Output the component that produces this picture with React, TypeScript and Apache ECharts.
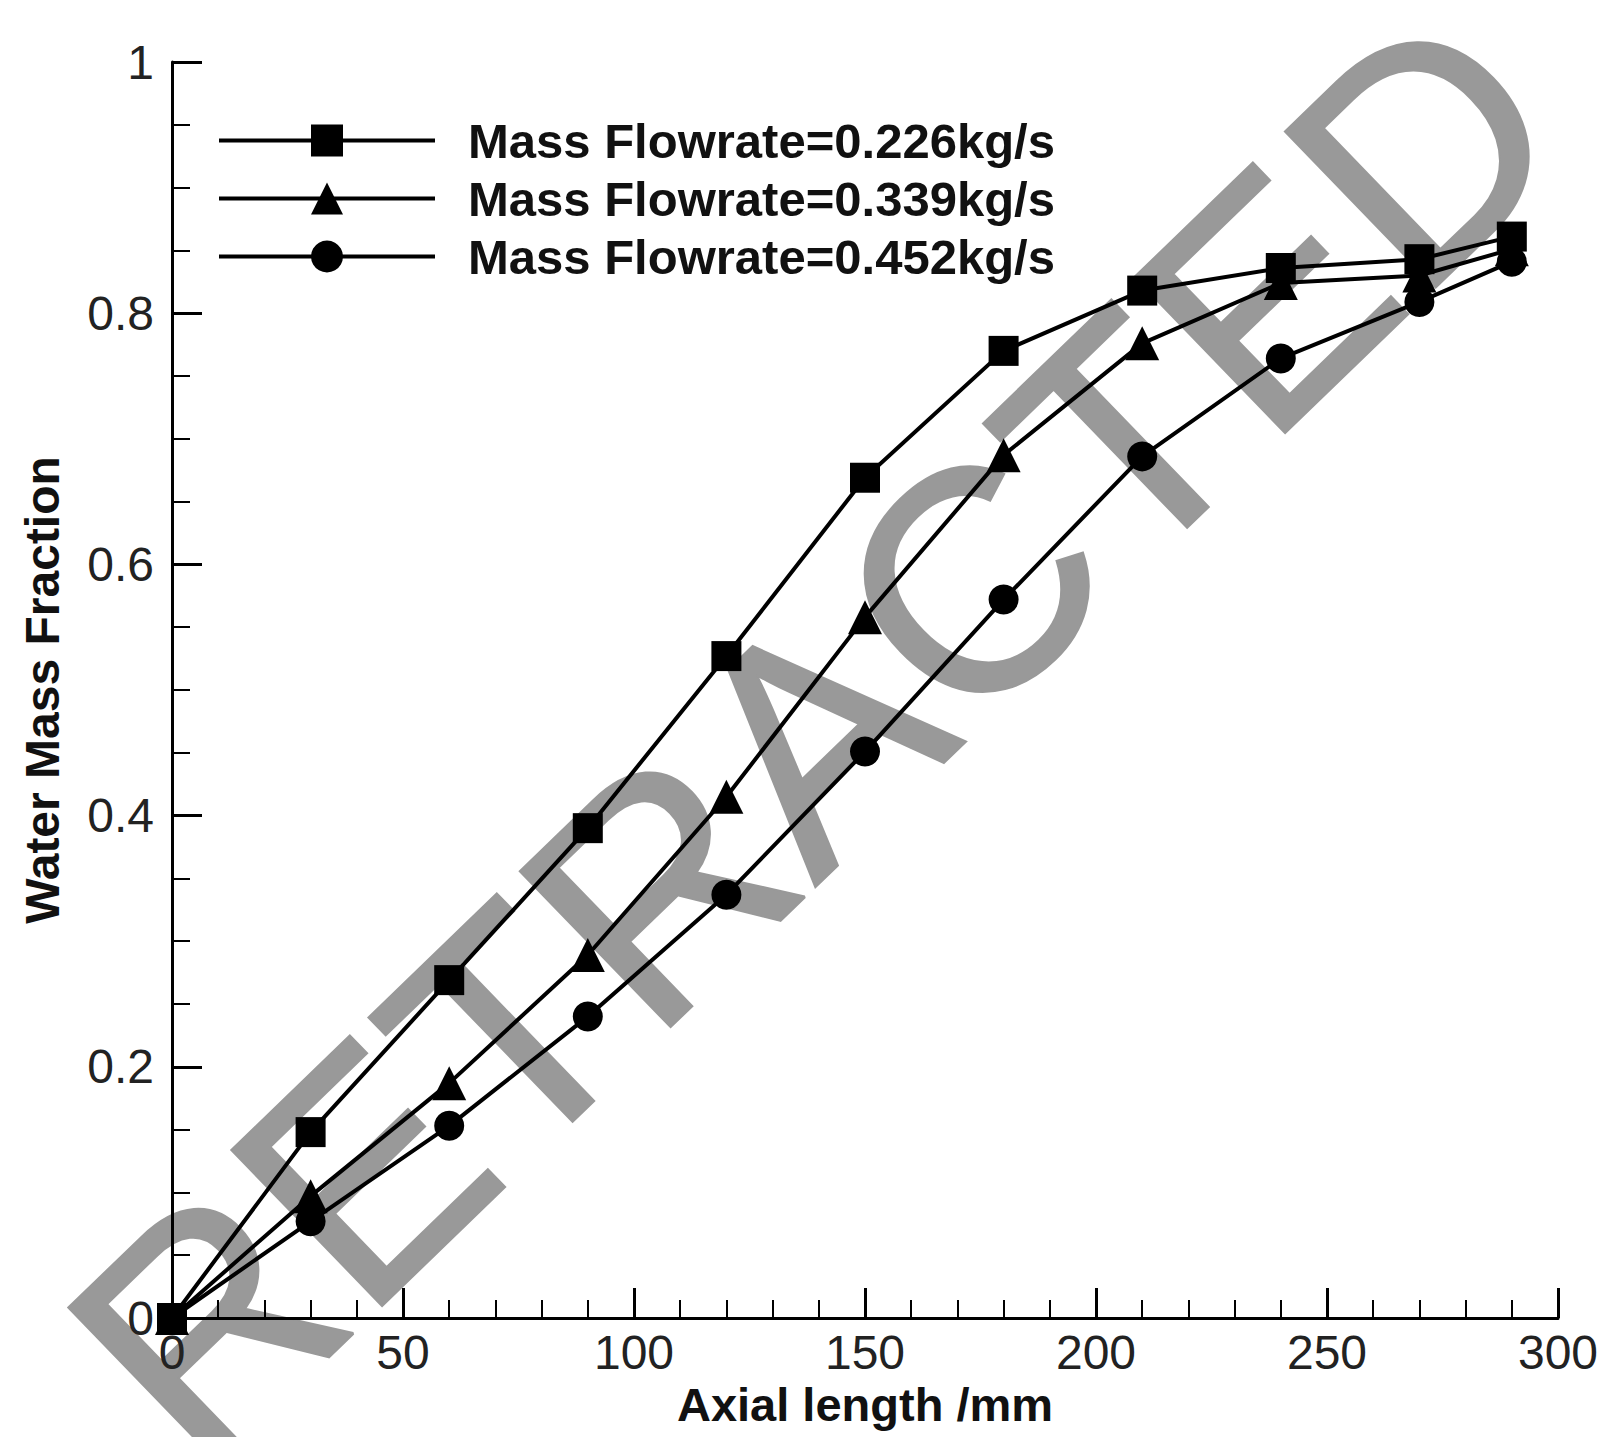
import React, { useEffect, useRef } from "react";
import * as echarts from "echarts";

const xValues = [0, 30, 60, 90, 120, 150, 180, 210, 240, 270, 290];
const flow226 = [0, 0.148, 0.269, 0.39, 0.527, 0.669, 0.77, 0.818, 0.836, 0.843, 0.861];
const flow339 = [0, 0.097, 0.187, 0.289, 0.415, 0.558, 0.687, 0.776, 0.824, 0.83, 0.851];
const flow452 = [0, 0.077, 0.153, 0.24, 0.337, 0.451, 0.572, 0.686, 0.764, 0.809, 0.841];
const seriesNames = [
  "Mass Flowrate=0.226kg/s",
  "Mass Flowrate=0.339kg/s",
  "Mass Flowrate=0.452kg/s",
];
const seriesSymbols = ["rect", "triangle", "circle"];
const xTitle = "Axial length /mm";
const yTitle = "Water Mass Fraction";
const watermark = "RETRACTED";

export default function App() {
  const ref = useRef<HTMLDivElement>(null);
  useEffect(() => {
    document.body.style.margin = "0";
    const chart = echarts.init(ref.current!, null, { renderer: "svg" });
    const font = "'Liberation Sans', Arial, sans-serif";
    const data = [flow226, flow339, flow452];
    const axisCommon = {
      axisLine: { show: true, lineStyle: { color: "#000", width: 3 } },
      axisTick: { show: true, inside: true, length: 30, lineStyle: { color: "#000", width: 3 } },
      minorTick: { show: true, length: 18, lineStyle: { color: "#000", width: 2 } },
      splitLine: { show: false },
      nameTextStyle: { fontFamily: font, fontSize: 47, fontWeight: "bold", color: "#111" },
    };
    chart.setOption({
      animation: false,
      backgroundColor: "#fff",
      grid: {
        left: 172,
        right: 48,
        top: 62,
        bottom: 119,
        containLabel: false,
        outerBoundsMode: "none",
      },
      graphic: [
        {
          type: "text",
          x: 815,
          y: 736,
          rotation: (44 * Math.PI) / 180,
          z: -10,
          silent: true,
          style: {
            text: watermark,
            fontFamily: font,
            fontSize: 314,
            fill: "#999999",
            stroke: "#999999",
            lineWidth: 3,
            align: "center",
            verticalAlign: "middle",
          },
        },
      ],
      legend: {
        left: 212,
        top: 111,
        orient: "vertical",
        itemWidth: 216,
        itemHeight: 40,
        itemGap: 9,
        lineStyle: { width: 4, color: "#000" },
        textStyle: {
          fontFamily: font,
          fontSize: 49,
          lineHeight: 40,
          fontWeight: "bold",
          color: "#111",
          padding: [0, 0, 0, 28],
        },
        data: seriesNames,
      },
      xAxis: {
        type: "value",
        min: 0,
        max: 300,
        interval: 50,
        minorTick: { ...axisCommon.minorTick, splitNumber: 5 },
        axisLine: axisCommon.axisLine,
        axisTick: axisCommon.axisTick,
        splitLine: axisCommon.splitLine,
        axisLabel: { fontFamily: font, fontSize: 48, color: "#222", margin: 10 },
        name: xTitle,
        nameLocation: "middle",
        nameGap: 58,
        nameTextStyle: axisCommon.nameTextStyle,
      },
      yAxis: {
        type: "value",
        min: 0,
        max: 1,
        interval: 0.2,
        minorTick: { ...axisCommon.minorTick, splitNumber: 4 },
        axisLine: axisCommon.axisLine,
        axisTick: axisCommon.axisTick,
        splitLine: axisCommon.splitLine,
        axisLabel: { fontFamily: font, fontSize: 48, color: "#222", margin: 18 },
        name: yTitle,
        nameLocation: "middle",
        nameGap: 106,
        nameTextStyle: { ...axisCommon.nameTextStyle, fontSize: 48 },
      },
      series: data.map((d, i) => ({
        type: "line",
        name: seriesNames[i],
        data: xValues.map((x, j) => [x, d[j]]),
        symbol: seriesSymbols[i],
        symbolSize: i === 1 ? 34 : 30,
        showAllSymbol: true,
        color: "#000",
        itemStyle: { color: "#000" },
        lineStyle: { color: "#000", width: 4 },
        z: 5,
      })),
    });
    return () => chart.dispose();
  }, []);
  return <div ref={ref} style={{ width: 1606, height: 1437 }} />;
}
